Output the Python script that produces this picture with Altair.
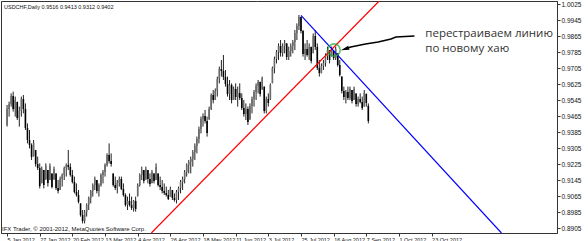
import altair as alt
import pandas as pd

# ---- data (USDCHF daily, 2012) ----
opens = [.9420,.9500,.9525,.9565,.9500,.9535,.9455,.9490,.9550,.9500,
         .9405,.9345,.9320,.9265,.9295,.9225,.9205,.9130,.9195,.9150,
         .9195,.9145,.9178,.9150,.9178,.9105,.9095,.9150,.9170,.9205,
         .9220,.9210,.9170,.9135,.9085,.9070,.9028,.8970,.8940,.8985,
         .9020,.9055,.9090,.9120,.9145,.9090,.9120,.9170,.9185,.9220,
         .9270,.9240,.9178,.9120,.9105,.9130,.9150,.9100,.9070,.9020,
         .9040,.9020,.9005,.9040,.9065,.9120,.9170,.9195,.9150,.9195,
         .9150,.9130,.9178,.9145,.9178,.9120,.9110,.9090,.9080,.9070,
         .9062,.9095,.9055,.9045,.9085,.9105,.9135,.9150,.9185,.9220,
         .9235,.9250,.9285,.9315,.9350,.9400,.9450,.9465,.9440,.9450,
         .9500,.9570,.9545,.9590,.9650,.9700,.9690,.9660,.9625,.9575,
         .9620,.9545,.9600,.9560,.9580,.9555,.9505,.9475,.9500,.9450,
         .9515,.9550,.9585,.9615,.9635,.9600,.9612,.9490,.9550,.9550,
         .9630,.9705,.9750,.9785,.9815,.9780,.9815,.9828,.9760,.9790,
         .9815,.9835,.9880,.9915,.9960,.9890,.9775,.9800,.9770,.9810,
         .9780,.9865,.9810,.9705,.9680,.9715,.9730,.9765,.9795,.9765,
         .9790,.9755,.9778,.9720,.9662,.9590,.9560,.9585,.9555,.9595,
         .9545,.9578,.9525,.9550,.9535,.9512,.9575,.9516]
highs = [.9520,.9537,.9578,.9587,.9562,.9537,.9512,.9562,.9570,.9528,
         .9428,.9395,.9328,.9345,.9295,.9262,.9228,.9212,.9195,.9228,
         .9195,.9228,.9178,.9212,.9178,.9145,.9162,.9178,.9212,.9228,
         .9295,.9228,.9195,.9162,.9128,.9095,.9028,.8995,.8995,.9028,
         .9062,.9095,.9128,.9162,.9145,.9128,.9178,.9195,.9228,.9278,
         .9328,.9278,.9178,.9162,.9145,.9162,.9162,.9128,.9078,.9062,
         .9078,.9062,.9045,.9062,.9128,.9178,.9212,.9195,.9212,.9195,
         .9178,.9195,.9178,.9228,.9178,.9162,.9145,.9128,.9112,.9095,
         .9112,.9095,.9078,.9095,.9112,.9145,.9162,.9195,.9228,.9245,
         .9262,.9295,.9328,.9362,.9412,.9462,.9478,.9495,.9462,.9512,
         .9578,.9595,.9603,.9662,.9712,.9745,.9770,.9695,.9662,.9645,
         .9628,.9612,.9628,.9612,.9628,.9578,.9545,.9528,.9512,.9528,
         .9562,.9595,.9628,.9645,.9637,.9662,.9612,.9562,.9578,.9628,
         .9712,.9762,.9795,.9828,.9845,.9828,.9845,.9828,.9812,.9828,
         .9845,.9895,.9928,.9970,.9962,.9895,.9828,.9845,.9828,.9812,
         .9878,.9895,.9828,.9745,.9728,.9745,.9778,.9812,.9795,.9812,
         .9795,.9812,.9778,.9745,.9662,.9612,.9595,.9612,.9612,.9595,
         .9612,.9578,.9562,.9578,.9562,.9595,.9578,.9528]
lows = [.9412,.9462,.9512,.9487,.9462,.9445,.9412,.9462,.9478,.9395,
        .9328,.9303,.9245,.9262,.9212,.9195,.9103,.9128,.9103,.9145,
        .9112,.9145,.9103,.9145,.9095,.9078,.9095,.9112,.9145,.9162,
        .9195,.9162,.9128,.9078,.9062,.9028,.8962,.8928,.8928,.8962,
        .8995,.9028,.9062,.9095,.9078,.9062,.9112,.9128,.9162,.9212,
        .9228,.9212,.9112,.9095,.9078,.9112,.9095,.9062,.9012,.8995,
        .9012,.8995,.8987,.8987,.9062,.9112,.9145,.9128,.9145,.9128,
        .9112,.9128,.9128,.9145,.9112,.9095,.9078,.9070,.9062,.9045,
        .9062,.9045,.9037,.9028,.9045,.9078,.9095,.9128,.9162,.9178,
        .9178,.9212,.9245,.9278,.9328,.9378,.9412,.9428,.9362,.9445,
        .9495,.9528,.9545,.9562,.9628,.9662,.9645,.9612,.9562,.9545,
        .9528,.9545,.9545,.9512,.9545,.9495,.9462,.9445,.9420,.9445,
        .9478,.9512,.9545,.9578,.9562,.9595,.9478,.9478,.9512,.9545,
        .9628,.9678,.9728,.9745,.9762,.9762,.9778,.9745,.9745,.9762,
        .9778,.9795,.9845,.9895,.9878,.9762,.9745,.9762,.9745,.9728,
        .9778,.9795,.9695,.9662,.9678,.9695,.9712,.9745,.9728,.9762,
        .9745,.9745,.9712,.9662,.9578,.9545,.9528,.9545,.9545,.9528,
        .9545,.9512,.9512,.9528,.9495,.9512,.9512,.9428]
closes = [.9500,.9525,.9565,.9500,.9545,.9455,.9490,.9550,.9500,.9405,
          .9345,.9320,.9260,.9330,.9225,.9205,.9115,.9200,.9120,.9215,
          .9130,.9215,.9110,.9200,.9105,.9090,.9150,.9170,.9205,.9220,
          .9210,.9170,.9135,.9085,.9070,.9035,.8970,.8940,.8985,.9020,
          .9055,.9090,.9120,.9150,.9090,.9120,.9170,.9185,.9220,.9270,
          .9240,.9225,.9120,.9105,.9130,.9150,.9100,.9070,.9020,.9040,
          .9020,.9005,.9040,.9000,.9120,.9170,.9195,.9140,.9200,.9150,
          .9125,.9185,.9140,.9210,.9120,.9110,.9090,.9080,.9070,.9050,
          .9100,.9055,.9045,.9085,.9105,.9135,.9150,.9185,.9220,.9235,
          .9250,.9285,.9315,.9350,.9400,.9450,.9465,.9440,.9380,.9500,
          .9570,.9545,.9590,.9650,.9700,.9690,.9660,.9625,.9575,.9620,
          .9545,.9600,.9560,.9580,.9555,.9505,.9475,.9500,.9435,.9515,
          .9550,.9585,.9615,.9635,.9575,.9655,.9490,.9550,.9530,.9620,
          .9705,.9750,.9785,.9815,.9780,.9815,.9830,.9760,.9790,.9815,
          .9835,.9880,.9915,.9960,.9890,.9775,.9800,.9770,.9810,.9740,
          .9865,.9810,.9705,.9680,.9715,.9730,.9765,.9795,.9745,.9800,
          .9755,.9800,.9720,.9670,.9590,.9560,.9585,.9555,.9600,.9540,
          .9600,.9525,.9550,.9535,.9505,.9580,.9530,.9440]

tick_idx = [0, 16, 32, 48, 64, 80, 96, 112, 128, 144, 160, 176, 192, 208]
tick_dates = ["5 Jan 2012", "27 Jan 2012", "20 Feb 2012", "13 Mar 2012",
              "4 Apr 2012", "26 Apr 2012", "18 May 2012", "11 Jun 2012",
              "3 Jul 2012", "25 Jul 2012", "16 Aug 2012", "7 Sep 2012",
              "1 Oct 2012", "23 Oct 2012"]
price_ticks = [1.0025, 0.9945, 0.9865, 0.9785, 0.9705, 0.9625, 0.9545,
               0.9465, 0.9385, 0.9305, 0.9225, 0.9145, 0.9065, 0.8985, 0.8905]

# trend lines (bar index, price)
red_idx = [70.7, 182.3]
red_price = [0.8880, 1.0040]
blue_idx = [144.0, 242.2]
blue_price = [0.9968, 0.8880]
circle_idx = [160.2]
circle_price = [0.9795]
arrow_idx = [199.6, 190.5, 188.1, 181.8, 175.6, 168.4, 165.5]
arrow_price = [0.9865, 0.9860, 0.9850, 0.9835, 0.9825, 0.9810, 0.9800]
note_lines = ["перестраиваем линию", "по новому хаю"]
note_idx = [204.9, 204.9]
note_price = [0.9877, 0.9802]
header = "USDCHF,Daily  0.9516 0.9413 0.9312 0.9402"
footer = "IFX Trader, © 2001-2012, MetaQuotes Software Corp."

FONT = "Liberation Sans"
xs = alt.Scale(domain=[-0.52, 266.98], nice=False, zero=False)
ys = alt.Scale(domain=[0.8880, 1.0040], nice=False, zero=False)

df = pd.DataFrame({"idx": list(range(len(closes))), "open": opens,
                   "high": highs, "low": lows, "close": closes})
df["dir"] = ["up" if c >= o else "down" for o, c in zip(opens, closes)]

label_expr = "[" + ",".join("'" + d + "'" for d in tick_dates) + "][round(datum.value/16)]"

x_axis = alt.Axis(values=tick_idx, labelExpr=label_expr, title=None, grid=False,
                  labelAlign="left", labelBaseline="top", labelFontSize=5.5,
                  labelPadding=1, tickSize=3, labelFont=FONT, labelColor="#111",
                  domainColor="#333", tickColor="#333", labelOverlap=False,
                  labelFlush=False)
y_axis = alt.Axis(orient="right", values=price_ticks, format=".4f", title=None,
                  grid=False, labelFontSize=6.5, labelPadding=1, tickSize=3,
                  labelFont=FONT, labelColor="#111", domainColor="#333",
                  tickColor="#333", labelOverlap=False, labelFlush=False,
                  labelSeparation=0, labelBaseline="middle")

col = alt.Color("dir:N", scale=alt.Scale(domain=["up", "down"],
                range=["#6a6a6a", "#000000"]), legend=None)

X = lambda f: alt.X(f, scale=xs, axis=x_axis)
Y = lambda f: alt.Y(f, scale=ys, axis=y_axis)

wicks = alt.Chart(df).mark_rule(strokeWidth=1, color="#222").encode(
    x=X("idx:Q"), y=Y("low:Q"), y2="high:Q")
bodies = alt.Chart(df).mark_bar(width=1.6).encode(
    x=X("idx:Q"), y=Y("open:Q"), y2="close:Q", color=col)

red_df = pd.DataFrame({"x": [red_idx[0]], "x2": [red_idx[1]],
                       "y": [red_price[0]], "y2": [red_price[1]]})
blue_df = pd.DataFrame({"x": [blue_idx[0]], "x2": [blue_idx[1]],
                        "y": [blue_price[0]], "y2": [blue_price[1]]})
red = alt.Chart(red_df).mark_rule(color="#ff0000", strokeWidth=1.2, clip=True).encode(
    x=X("x:Q"), x2="x2:Q", y=Y("y:Q"), y2="y2:Q")
blue = alt.Chart(blue_df).mark_rule(color="#0000ff", strokeWidth=1.2, clip=True).encode(
    x=X("x:Q"), x2="x2:Q", y=Y("y:Q"), y2="y2:Q")

circ = alt.Chart(pd.DataFrame({"x": circle_idx, "y": circle_price})).mark_point(
    shape="circle", size=150, filled=False, color="#1fae3a", strokeWidth=1.6).encode(
    x=X("x:Q"), y=Y("y:Q"))

arr_df = pd.DataFrame({"x": arrow_idx, "y": arrow_price, "o": list(range(len(arrow_idx)))})
arrow = alt.Chart(arr_df).mark_line(color="#000", strokeWidth=1.4).encode(
    x=X("x:Q"), y=Y("y:Q"), order="o:Q")
head = alt.Chart(pd.DataFrame({"x": [arrow_idx[-1]], "y": [arrow_price[-1]]})).mark_point(
    shape="M-1,0L1,-0.5L1,0.5Z", size=70, filled=True, color="#000", opacity=1,
    angle=342).encode(x=X("x:Q"), y=Y("y:Q"))

notes = alt.Chart(pd.DataFrame({"x": note_idx, "y": note_price, "t": note_lines})).mark_text(
    align="left", baseline="middle", font="Open Sans", fontSize=11.5, color="#333").encode(
    x=X("x:Q"), y=Y("y:Q"), text="t:N")

head_txt = alt.Chart(pd.DataFrame({"t": [header]})).mark_text(
    align="left", baseline="middle", font=FONT, fontSize=5.5, color="#111").encode(
    x=alt.value(3), y=alt.value(6), text="t:N")
foot_txt = alt.Chart(pd.DataFrame({"t": [footer]})).mark_text(
    align="left", baseline="middle", font=FONT, fontSize=6, color="#111").encode(
    x=alt.value(1), y=alt.value(228), text="t:N")

chart = alt.layer(wicks, bodies, red, blue, circ, arrow, head, notes, head_txt, foot_txt).properties(
    width=556, height=232,
    autosize=alt.AutoSizeParams(type="none"),
    padding={"left": 1, "top": 1, "right": 31, "bottom": 8},
    background="white",
).configure_view(stroke="#333", strokeWidth=1).configure_axis(labelOverlap=False)

chart.save("out.html", embed_options={"renderer": "svg", "actions": False})
